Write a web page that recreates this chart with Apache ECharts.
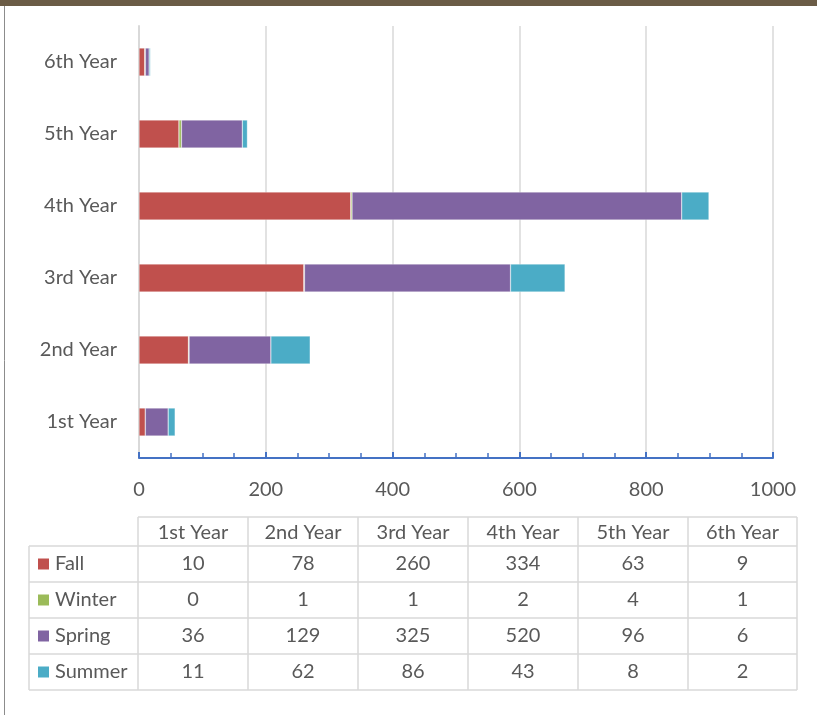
<!DOCTYPE html>
<html><head><meta charset="utf-8">
<script src="https://cdn.jsdelivr.net/npm/echarts@6/dist/echarts.min.js"></script>
<style>html,body{margin:0;padding:0;background:#fff}#c{width:817px;height:715px}</style>
</head><body><div id="c"></div>
<script>
const categories = ['1st Year','2nd Year','3rd Year','4th Year','5th Year','6th Year'];
const seriesNames = ['Fall','Winter','Spring','Summer'];
const fall = [10, 78, 260, 334, 63, 9];
const winter = [0, 1, 1, 2, 4, 1];
const spring = [36, 129, 325, 520, 96, 6];
const summer = [11, 62, 86, 43, 8, 2];
const xTicks = [0, 200, 400, 600, 800, 1000];

const values = [fall, winter, spring, summer];
const colors = ['#C0504D', '#9BBB59', '#8064A2', '#4BACC6'];
const FONT = 'Lato';
const FS = 20;
const TXT = '#595959';

const chart = echarts.init(document.getElementById('c'));

const g = [];
g.push({type:'rect', shape:{x:0,y:0,width:817,height:6}, style:{fill:'#6B5C46'}, silent:true});
g.push({type:'line', shape:{x1:4.5,y1:6,x2:4.5,y2:715}, style:{stroke:'#8C8C8C', lineWidth:1}, silent:true});
const colX = [138, 248, 358, 468, 578, 688, 797];
const rowY = [517, 546, 582, 618, 654, 690];
const labelX0 = 29;
const lineStyle = {stroke:'#D9D9D9', lineWidth:1.5};
rowY.forEach((y, i) => {
  const x1 = i === 0 ? colX[0] : labelX0;
  g.push({type:'line', shape:{x1:x1,y1:y,x2:colX[6],y2:y}, style:lineStyle, silent:true});
});
colX.forEach(x => {
  g.push({type:'line', shape:{x1:x,y1:rowY[0],x2:x,y2:rowY[5]}, style:lineStyle, silent:true});
});
g.push({type:'line', shape:{x1:labelX0,y1:rowY[1],x2:labelX0,y2:rowY[5]}, style:lineStyle, silent:true});
categories.forEach((c, j) => {
  g.push({type:'text', x:(colX[j]+colX[j+1])/2, y:(rowY[0]+rowY[1])/2+1,
    style:{text:c, fill:TXT, font:FS+'px '+FONT, align:'center', verticalAlign:'middle'}, silent:true});
});
seriesNames.forEach((s, i) => {
  const cy = (rowY[i+1]+rowY[i+2])/2;
  g.push({type:'rect', shape:{x:38,y:cy-5.5,width:11,height:11}, style:{fill:colors[i]}, silent:true});
  g.push({type:'text', x:55, y:cy, style:{text:s, fill:TXT, font:FS+'px '+FONT, align:'left', verticalAlign:'middle'}, silent:true});
  values[i].forEach((v, j) => {
    g.push({type:'text', x:(colX[j]+colX[j+1])/2, y:cy,
      style:{text:String(v), fill:TXT, font:FS+'px '+FONT, align:'center', verticalAlign:'middle'}, silent:true});
  });
});

chart.setOption({
  animation:false,
  backgroundColor:'#fff',
  grid:{left:139, right:44, top:26, bottom:257, containLabel:false},
  xAxis:{
    type:'value', min:xTicks[0], max:xTicks[xTicks.length-1], interval:200,
    axisLine:{show:true, lineStyle:{color:'#4472C4', width:2}},
    axisTick:{show:true, inside:true, length:6, lineStyle:{color:'#4472C4', width:2}},
    minorTick:{show:true, splitNumber:4, length:5, lineStyle:{color:'#4472C4', width:1.5}},
    splitLine:{show:true, lineStyle:{color:'#D9D9D9', width:1.5}},
    axisLabel:{color:TXT, fontFamily:FONT, fontSize:FS, margin:22, formatter:v => String(v)}
  },
  yAxis:{
    type:'category', data:categories,
    axisLine:{show:true, lineStyle:{color:'#D9D9D9', width:2}},
    axisTick:{show:false},
    axisLabel:{color:TXT, fontFamily:FONT, fontSize:FS, margin:22}
  },
  series: seriesNames.map((n, i) => ({
    name:n, type:'bar', stack:'total', data:values[i], barWidth:28,
    itemStyle:{color:colors[i], borderColor:'rgba(255,255,255,0.6)', borderWidth:0.5}
  })),
  graphic:g
});
</script></body></html>
